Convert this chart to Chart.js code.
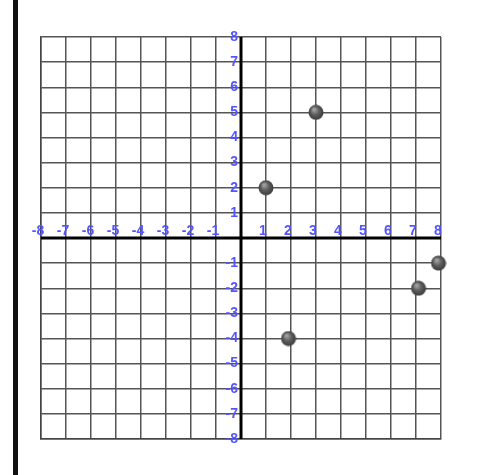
<!DOCTYPE html>
<html>
<head>
<meta charset="utf-8">
<script src="https://cdn.jsdelivr.net/npm/chart.js@4"></script>
<style>
  html, body { margin: 0; padding: 0; background: #fff; }
  #wrap { width: 480px; height: 475px; position: relative; }
</style>
</head>
<body>
<div id="wrap"><canvas id="chart" width="480" height="475"></canvas></div>
<script>
// 데이터
const pointsX = [1, 3, 1.9, 7.1, 7.9];
const pointsY = [2, 5, -4, -2, -1];
const tickValues = [-8, -7, -6, -5, -4, -3, -2, -1, 1, 2, 3, 4, 5, 6, 7, 8];

const labelColor = '#5555ff';

// 구슬 모양 점 이미지 만들기
function makeBall() {
    const size = 16;
    const cv = document.createElement('canvas');
    cv.width = size;
    cv.height = size;
    const c = cv.getContext('2d');
    const g = c.createRadialGradient(6, 5, 1, 8, 8, 8);
    g.addColorStop(0, '#a0a0a0');
    g.addColorStop(0.45, '#5e5e5e');
    g.addColorStop(1, '#383838');
    c.fillStyle = g;
    c.beginPath();
    c.arc(8, 8, 7.5, 0, Math.PI * 2);
    c.fill();
    return cv;
}
const ball = makeBall();

// 축, 라벨, 왼쪽 막대 그리기
const axesPlugin = {
    id: 'axesPlugin',
    beforeDraw(chart) {
        const c = chart.ctx;
        c.save();
        c.fillStyle = '#111';
        c.fillRect(13, 0, 5, chart.height);
        c.restore();
    },
    beforeDatasetsDraw(chart) {
        const c = chart.ctx;
        const xs = chart.scales.x, ys = chart.scales.y;
        const a = chart.chartArea;
        const x0 = xs.getPixelForValue(0);
        const y0 = ys.getPixelForValue(0);
        c.save();
        c.fillStyle = '#000';
        c.fillRect(x0 - 1.5, a.top, 3, a.bottom - a.top);
        c.fillRect(a.left, y0 - 1.5, a.right - a.left, 3);

        c.fillStyle = labelColor;
        c.font = 'bold 14px "Liberation Sans", Arial, sans-serif';
        // x 라벨
        c.textAlign = 'center';
        c.textBaseline = 'alphabetic';
        tickValues.forEach(v => {
            c.fillText(String(v), xs.getPixelForValue(v) - 3, y0 - 3);
        });
        // y 라벨
        c.textAlign = 'right';
        c.textBaseline = 'middle';
        tickValues.forEach(v => {
            c.fillText(String(v), x0 - 3, ys.getPixelForValue(v));
        });
        c.restore();
    }
};

const ctx = document.getElementById('chart').getContext('2d');
const chart = new Chart(ctx, {
    type: 'scatter',
    data: {
        datasets: [{
            data: pointsX.map((x, i) => ({ x: x, y: pointsY[i] })),
            pointStyle: ball,
            pointRadius: 8,
            pointHoverRadius: 8,
            clip: false
        }]
    },
    options: {
        responsive: false,
        animation: false,
        layout: { padding: { left: 41, top: 37, right: 39, bottom: 36 } },
        plugins: { legend: { display: false }, tooltip: { enabled: false } },
        scales: {
            x: {
                type: 'linear', min: -8, max: 8,
                ticks: { display: false, stepSize: 1 },
                grid: { color: '#555', lineWidth: 1.5, drawTicks: false },
                border: { display: true, color: '#444', width: 1.5 }
            },
            y: {
                type: 'linear', min: -8, max: 8,
                ticks: { display: false, stepSize: 1 },
                grid: { color: '#555', lineWidth: 1.5, drawTicks: false },
                border: { display: true, color: '#444', width: 1.5 }
            }
        }
    },
    plugins: [axesPlugin]
});
</script>
</body>
</html>
